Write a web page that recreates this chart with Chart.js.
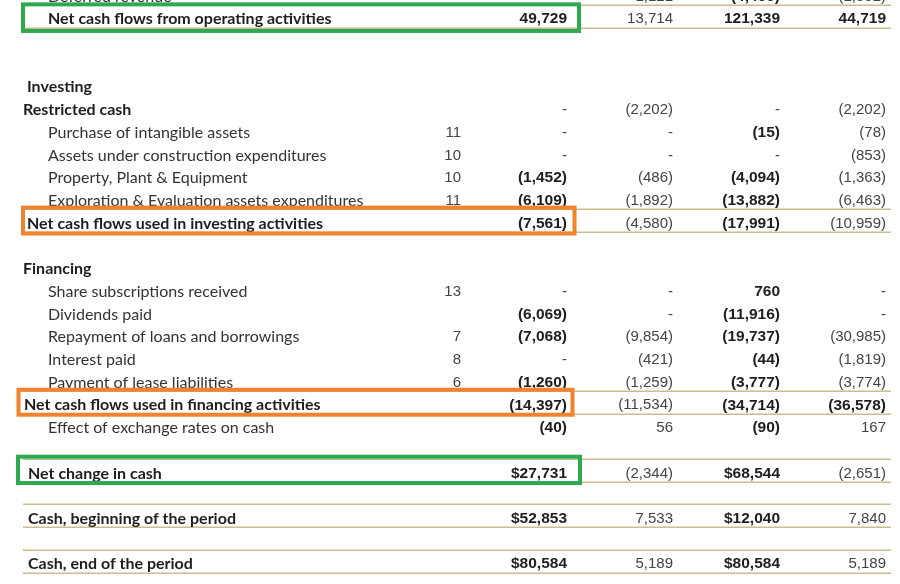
<!DOCTYPE html>
<html>
<head>
<meta charset="utf-8">
<script src="https://cdn.jsdelivr.net/npm/chart.js@4.4.1/dist/chart.umd.min.js"></script>
<style>
  html, body { margin: 0; padding: 0; background: #ffffff; }
  #wrap { width: 900px; height: 584px; position: relative; }
</style>
</head>
<body>
<div id="wrap"><canvas id="c" width="900" height="584"></canvas></div>
<script>
// ---------- DATA ----------
const rowLabels = [
  'Deferred revenue',
  'Net cash flows from operating activities',
  '', '',
  'Investing',
  'Restricted cash',
  'Purchase of intangible assets',
  'Assets under construction expenditures',
  'Property, Plant & Equipment',
  'Exploration & Evaluation assets expenditures',
  'Net cash flows used in investing activities',
  '',
  'Financing',
  'Share subscriptions received',
  'Dividends paid',
  'Repayment of loans and borrowings',
  'Interest paid',
  'Payment of lease liabilities',
  'Net cash flows used in financing activities',
  'Effect of exchange rates on cash',
  '',
  'Net change in cash',
  '',
  'Cash, beginning of the period',
  '',
  'Cash, end of the period'
];
const noteRefs = [
  '', '', '', '', '', '', '11', '10', '10', '11', '', '', '', '13', '', '7', '8', '6', '', '', '', '', '', '', '', ''
];
// null = blank cell, 0 = "-"
const periodA = [null, 49729, null, null, null, 0, 0, 0, -1452, -6109, -7561, null, null, 0, -6069, -7068, 0, -1260, -14397, -40, null, 27731, null, 52853, null, 80584];
const periodB = [1121, 13714, null, null, null, -2202, 0, 0, -486, -1892, -4580, null, null, 0, 0, -9854, -421, -1259, -11534, 56, null, -2344, null, 7533, null, 5189];
const periodC = [-4460, 121339, null, null, null, 0, -15, 0, -4094, -13882, -17991, null, null, 760, -11916, -19737, -44, -3777, -34714, -90, null, 68544, null, 12040, null, 80584];
const periodD = [-1552, 44719, null, null, null, -2202, -78, -853, -1363, -6463, -10959, null, null, 0, 0, -30985, -1819, -3774, -36578, 167, null, -2651, null, 7840, null, 5189];

// ---------- STYLE / LAYOUT CONFIG ----------
const boldLabelRows = [1, 4, 5, 10, 12, 18, 21, 23, 25];
const labelIndent = {1: 48, 4: 27, 5: 23, 10: 27, 12: 23, 18: 24, 21: 28, 23: 28, 25: 28};
const defaultIndent = 48;
const dollarRows = [21, 23, 25];
const columns = [
  { data: periodA, right: 567, bold: () => true, dollar: true },
  { data: periodB, right: 673, bold: () => false, dollar: false },
  { data: periodC, right: 780, bold: () => true, dollar: true },
  { data: periodD, right: 886, bold: r => (r === 1 || r === 18), dollar: false }
];
const noteRight = 461;
const ruleRows = [1, 10, 18, 21, 23, 25];
const boxes = [
  { row: 1,  x0: 23, x1: 579,   top: -0.6,  bottom: 0.57, color: '#2ea94f' },
  { row: 10, x0: 23, x1: 574.5, top: -0.65, bottom: 0.49, color: '#f0832c' },
  { row: 18, x0: 18.5, x1: 572.5, top: -0.63, bottom: 0.47, color: '#f0832c' },
  { row: 21, x0: 18, x1: 580,   top: -0.68, bottom: 0.48, color: '#2ea94f' }
];

function fmt(v, dollar) {
  if (v === null || v === undefined) return '';
  if (v === 0) return '-';
  const s = Math.abs(v).toLocaleString('en-US');
  if (v < 0) return '(' + s + ')';
  return (dollar ? '$' : '') + s;
}

const tablePlugin = {
  id: 'tablePlugin',
  afterDraw(chart) {
    const ctx = chart.ctx;
    const xs = chart.scales.x, ys = chart.scales.y;
    const X = v => xs.getPixelForValue(v);
    const Y = v => ys.getPixelForValue(v);
    ctx.save();
    // rules
    ctx.strokeStyle = '#cbbd90';
    ctx.lineWidth = 1.5;
    ruleRows.forEach(r => {
      [r - 0.58, r + 0.43].forEach(yy => {
        const py = Math.round(Y(yy)) + 0.25;
        ctx.beginPath();
        ctx.moveTo(X(23), py);
        ctx.lineTo(X(891), py);
        ctx.stroke();
      });
    });
    // text
    ctx.textBaseline = 'middle';
    rowLabels.forEach((lab, r) => {
      const py = Y(r) + 1.2;
      if (lab) {
        const b = boldLabelRows.includes(r);
        ctx.font = (b ? 'bold ' : '') + '16px Lato';
        ctx.fillStyle = b ? '#1e1e1e' : '#333333';
        ctx.textAlign = 'left';
        const ix = labelIndent[r] !== undefined ? labelIndent[r] : defaultIndent;
        ctx.fillText(lab, X(ix), py);
      }
      if (noteRefs[r]) {
        ctx.font = '15px "Liberation Sans"';
        ctx.fillStyle = '#444444';
        ctx.textAlign = 'right';
        ctx.fillText(noteRefs[r], X(noteRight), py);
      }
      columns.forEach(col => {
        const v = col.data[r];
        const t = fmt(v, col.dollar && dollarRows.includes(r));
        if (!t) return;
        const b = col.bold(r) && v !== 0;
        ctx.font = (b ? 'bold 15.5px' : '15px') + ' "Liberation Sans"';
        ctx.fillStyle = b ? '#1e1e1e' : '#444444';
        ctx.textAlign = 'right';
        ctx.fillText(t, X(col.right), py);
      });
    });
    // highlight boxes
    ctx.lineWidth = 4;
    boxes.forEach(bx => {
      ctx.strokeStyle = bx.color;
      const y0 = Y(bx.row + bx.top), y1 = Y(bx.row + bx.bottom);
      ctx.strokeRect(X(bx.x0), y0, X(bx.x1) - X(bx.x0), y1 - y0);
    });
    ctx.restore();
  }
};

new Chart(document.getElementById('c'), {
  type: 'scatter',
  data: { datasets: [{ data: [], pointRadius: 0 }] },
  options: {
    responsive: false,
    animation: false,
    events: [],
    layout: { padding: { left: 0, right: 0, top: 18, bottom: 21 } },
    plugins: { legend: { display: false }, tooltip: { enabled: false }, title: { display: false } },
    scales: {
      x: { type: 'linear', min: 0, max: 900, display: false },
      y: { type: 'linear', min: 1, max: 25, reverse: true, display: false }
    }
  },
  plugins: [tablePlugin]
});
</script>
</body>
</html>
